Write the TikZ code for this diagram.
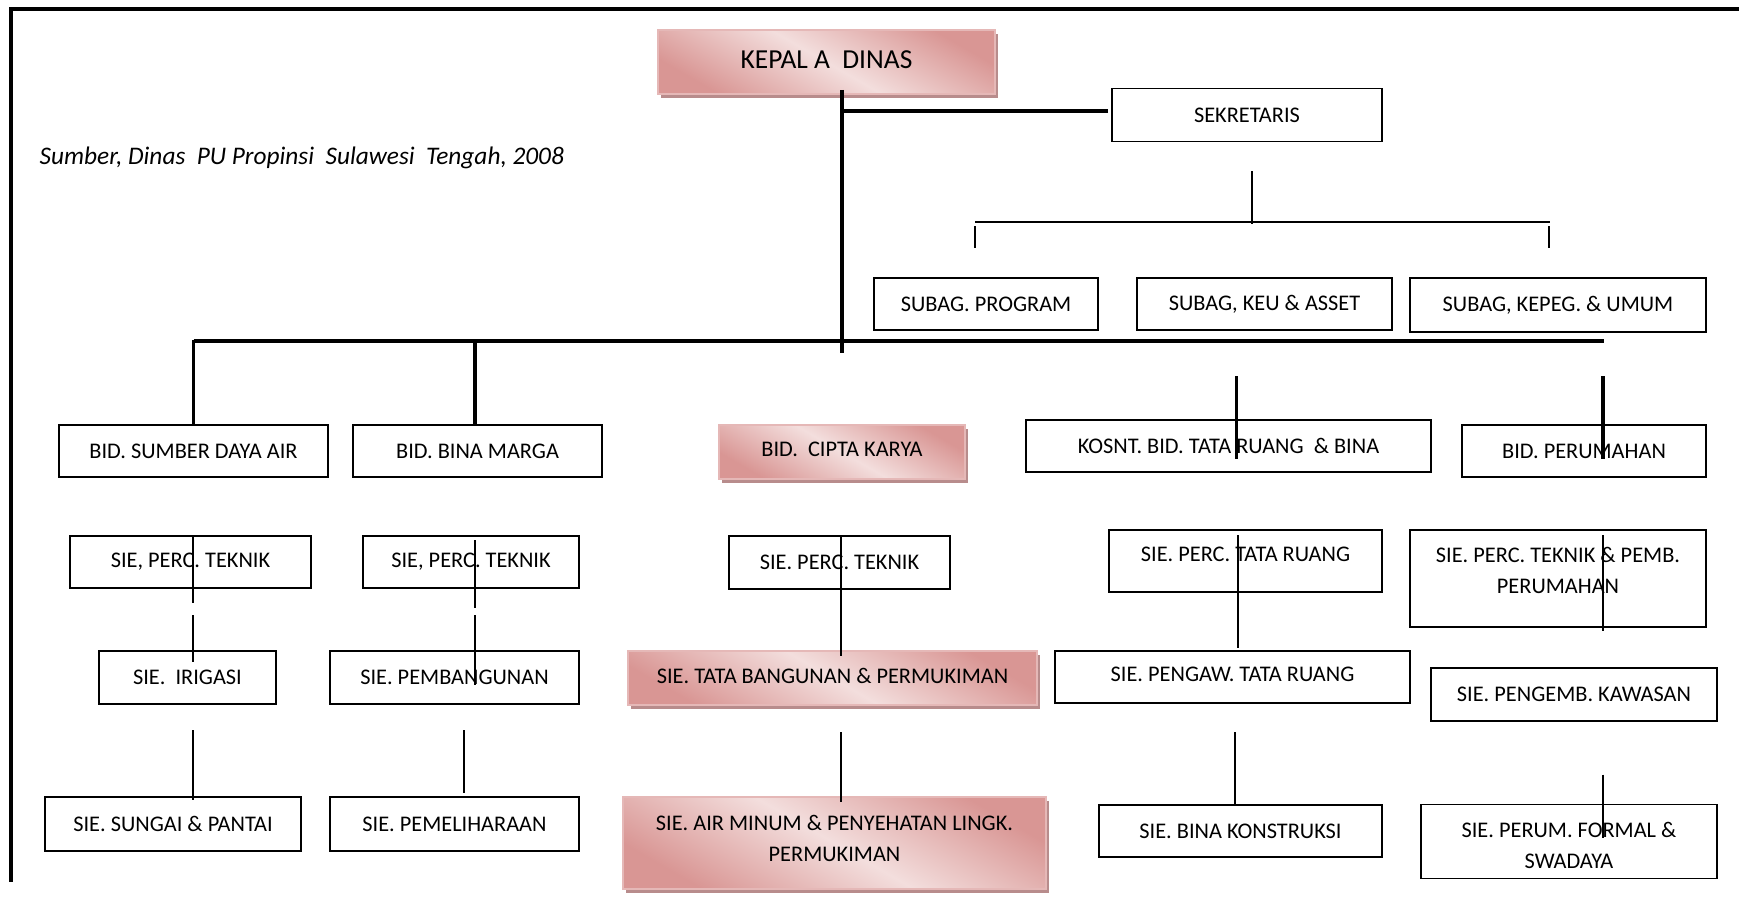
\documentclass[tikz,border=0pt]{standalone}
\usepackage{fontspec}
\setmainfont{Carlito}
\usepackage{tikz}
\usetikzlibrary{shadows}

\definecolor{pinkdark}{RGB}{217,150,148}
\definecolor{pinklight}{RGB}{243,222,221}
\definecolor{pinkline}{RGB}{229,184,183}
\definecolor{pinkshadow}{RGB}{176,128,128}

\begin{document}
\begin{tikzpicture} [x = 0.01cm, y = -0.01cm, font = \fontsize{6.35}{8.8}\selectfont,
	box/.style = {draw, line width = 0.5pt, inner sep = 0pt, align = center},
	pinkbox/.style = {box, draw = pinkline, top color = pinkdark, bottom color = pinkdark, middle color = pinklight,
	shading angle = -30, drop shadow = {shadow xshift = 0.03cm, shadow yshift = -0.04cm, fill = pinkshadow, opacity = 0.9}},
	link/.style = {line width = 0.45pt},
	bar/.style = {line width = 1.1pt},
	frame/.style = {line width = 0.9pt}]
			% Help grid
			%	\draw [help lines, step = 100] (0,0) grid (1739,907);
			\useasboundingbox (0,0) rectangle (1739,907);
			\draw [frame] (11,882) -- (11,9) -- (1739,9);

			% Source note
			\node (src) [anchor = west, inner sep = 0pt, font = \fontsize{7.2}{9}\selectfont\itshape] at (39,158)
			{Sumber, Dinas\ \ PU Propinsi\ \ Sulawesi\ \ Tengah, 2008};

			% Head Node : the trunk starts here
			\node (kadis) [pinkbox, minimum width = 3.37cm, minimum height = 0.64cm, text depth = 0.045cm,
			font = \fontsize{7.8}{9}\selectfont] at (826.5,62) {KEPAL A\ \ DINAS};

			% Secretary and sub-sections
			\node (sekr) [box, minimum width = 2.70cm, minimum height = 0.53cm] at (1247,115) {SEKRETARIS};
			\node (prog) [box, minimum width = 2.24cm, minimum height = 0.52cm] at (986,304) {SUBAG. PROGRAM};
			\node (keu) [box, minimum width = 2.55cm, minimum height = 0.52cm] at (1264.5,304) {SUBAG, KEU \& ASSET};
			\node (kepeg) [box, minimum width = 2.96cm, minimum height = 0.54cm] at (1558,305) {SUBAG, KEPEG. \& UMUM};

			% Bidang Nodes
			\node (bidsda) [box, minimum width = 2.69cm, minimum height = 0.52cm] at (193.5,451) {BID. SUMBER DAYA AIR};
			\node (bm) [box, minimum width = 2.49cm, minimum height = 0.52cm] at (477.5,451) {BID. BINA MARGA};
			\node (cipta) [pinkbox, minimum width = 2.46cm, minimum height = 0.54cm, text depth = 0.045cm] at (842,452)
			{BID.\ \ CIPTA KARYA};
			\node (kosnt) [box, minimum width = 4.05cm, minimum height = 0.52cm] at (1228.5,446)
			{KOSNT. BID. TATA RUANG\ \ \& BINA};
			\node (bidper) [box, minimum width = 2.44cm, minimum height = 0.52cm] at (1584,451) {BID. PERUMAHAN};

			% Seksi Nodes, first row
			\node (perc1) [box, minimum width = 2.41cm, minimum height = 0.52cm] at (190.5,562) {SIE, PERC. TEKNIK};
			\node (perc2) [box, minimum width = 2.16cm, minimum height = 0.52cm] at (471,562) {SIE, PERC. TEKNIK};
			\node (perc3) [box, minimum width = 2.21cm, minimum height = 0.53cm] at (839.5,562.5) {SIE. PERC. TEKNIK};
			\node (perctr) [box, minimum width = 2.73cm, minimum height = 0.62cm, text depth = 0.14cm] at (1245.5,561)
			{SIE. PERC. TATA RUANG};
			\node (percpr) [box, minimum width = 2.96cm, minimum height = 0.97cm, text depth = 0.16cm] at (1558,578.5)
			{SIE. PERC. TEKNIK \& PEMB.\\PERUMAHAN};

			% Seksi Nodes, second row
			\node (irig) [box, minimum width = 1.77cm, minimum height = 0.53cm] at (187.5,677.5) {SIE.\ \ IRIGASI};
			\node (pemb) [box, minimum width = 2.49cm, minimum height = 0.53cm] at (454.5,677.5) {SIE. PEMBANGUNAN};
			\node (tata) [pinkbox, minimum width = 4.09cm, minimum height = 0.54cm, text depth = 0.045cm] at (832.5,678)
			{SIE. TATA BANGUNAN \& PERMUKIMAN};
			\node (pengaw) [box, minimum width = 3.55cm, minimum height = 0.52cm, text depth = 0.05cm] at (1232.5,677)
			{SIE. PENGAW. TATA RUANG};
			\node (pengemb) [box, minimum width = 2.86cm, minimum height = 0.53cm] at (1574,694.5) {SIE. PENGEMB. KAWASAN};

			% Seksi Nodes, third row
			\node (sungai) [box, minimum width = 2.56cm, minimum height = 0.54cm] at (173,824) {SIE. SUNGAI \& PANTAI};
			\node (pemel) [box, minimum width = 2.49cm, minimum height = 0.54cm] at (454.5,824) {SIE. PEMELIHARAAN};
			\node (airm) [pinkbox, minimum width = 4.23cm, minimum height = 0.92cm, text depth = 0.09cm] at (834.5,843)
			{SIE. AIR MINUM \& PENYEHATAN LINGK.\\PERMUKIMAN};
			\node (binak) [box, minimum width = 2.83cm, minimum height = 0.52cm] at (1240.5,831) {SIE. BINA KONSTRUKSI};
			\node (formal) [box, minimum width = 2.96cm, minimum height = 0.74cm] at (1569,841.5)
			{\rule{0pt}{6.7pt}SIE. PERUM. FORMAL \&\\SWADAYA};

			% Draw Lines/Connections
			\draw [bar] (cipta.north |- kadis.south) ++(0,-5) -- ++(0,263);
			\draw [bar] (sekr.west) ++(-3,-4) -- (cipta.north |- 0,111);
			\draw [link] (sekr.south) ++(5,29) -- ++(0,53);
			\draw [link] (prog.north) ++(-11,-55) -- ++(575,0);
			\draw [link] (prog.north) ++(-11,-51) -- ++(0,22);
			\draw [link] (kepeg.north) ++(-9,-51) -- ++(0,22);
			\draw [bar] (bidsda.north) ++(0,-83) -- ++(1410,0);
			\draw [bar] (bidsda.north) -- ++(0,-84);
			\draw [bar] (bm.north) ++(-2.5,0) -- ++(0,-84);
			\draw [bar] (kosnt.north) ++(8,-43) -- ++(0,83);
			\draw [bar] (bidper.north) ++(19,-48) -- ++(0,83);

			% Lines inside the columns
			\draw [link] (perc1.north) ++(2.5,0) -- ++(0,68);
			\draw [link] (irig.north) ++(5.5,-35) -- ++(0,47);
			\draw [link] (sungai.north) ++(20,-66) -- ++(0,70);
			\draw [link] (perc2.north) ++(4,5) -- ++(0,68);
			\draw [link] (pemb.north) ++(20.5,-35) -- ++(0,70);
			\draw [link] (pemel.north) ++(9.5,-66) -- ++(0,63);
			\draw [link] (perc3.north) ++(1.5,1) -- ++(0,120);
			\draw [link] (airm.north) ++(6.5,-64) -- ++(0,70);
			\draw [link] (perctr.north) ++(-7.5,6) -- ++(0,113);
			\draw [link] (binak.north) ++(-5.5,-72) -- ++(0,72);
			\draw [link] (percpr.north) ++(45,6) -- ++(0,96);
			\draw [link] (formal.north) ++(34,-29) -- ++(0,63);
		\end{tikzpicture}
\end{document}
